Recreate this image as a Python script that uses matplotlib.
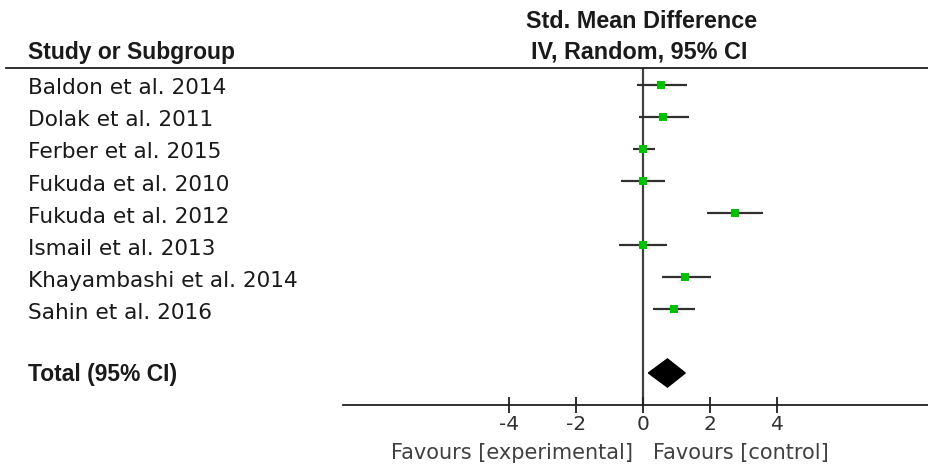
import matplotlib
matplotlib.use("Agg")
import matplotlib.pyplot as plt
from matplotlib.lines import Line2D
from matplotlib.transforms import blended_transform_factory

plt.rcParams['font.family'] = ['DejaVu Sans']

studies = ["Baldon et al. 2014", "Dolak et al. 2011", "Ferber et al. 2015",
           "Fukuda et al. 2010", "Fukuda et al. 2012", "Ismail et al. 2013",
           "Khayambashi et al. 2014", "Sahin et al. 2016"]
smd = [0.54, 0.61, 0.01, 0.00, 2.76, 0.00, 1.26, 0.91]
ci_low = [-0.18, -0.11, -0.29, -0.65, 1.92, -0.71, 0.56, 0.31]
ci_high = [1.31, 1.38, 0.37, 0.67, 3.59, 0.73, 2.04, 1.56]
total = [0.16, 0.73, 1.26]  # low, estimate, high
xticks = [-4, -2, 0, 2, 4]

W, H = 929, 468
fig = plt.figure(figsize=(W / 100, H / 100), dpi=100)
ax = fig.add_axes([343 / W, 1 - 405 / H, 586 / W, 337 / H])
ax.set_xlim(-8.96, 8.54)
ax.set_ylim(10, -0.53)

txt = '#1a1a1a'
bold_font = 'Liberation Sans'
rows = list(range(len(studies)))
total_row = len(studies) + 1

for i in rows:
    ax.plot([ci_low[i], ci_high[i]], [i, i], color='#303030', lw=1.6, solid_capstyle='butt')
ax.plot(smd, rows, 's', color='#00c000', markersize=6, markeredgewidth=0, zorder=3)

ax.fill([total[0], total[1], total[2], total[1]],
        [total_row, total_row - 0.44, total_row, total_row + 0.44], color='black', zorder=3)

ax.axvline(0, color='#404040', lw=1.6, zorder=1)

for s in ['top', 'right', 'left']:
    ax.spines[s].set_visible(False)
ax.spines['bottom'].set_linewidth(1.3)
ax.spines['bottom'].set_color('#202020')
ax.set_yticks([])
ax.set_xticks(xticks)
ax.set_xticklabels([str(t) for t in xticks])
ax.tick_params(axis='x', direction='inout', length=11, width=1.3, color='#202020',
               labelsize=14.5, labelcolor='#303030', pad=2)

# left column text
for i, name in enumerate(studies):
    fig.text(28 / W, 1 - (88 + 32.2 * i) / H, name, fontsize=15.6, color=txt, va='center')
fig.text(28 / W, 1 - 375 / H, "Total (95% CI)", fontsize=16.5, fontweight='bold',
         family=bold_font, color=txt, va='center')

# headers
fig.text(28 / W, 1 - 52 / H, "Study or Subgroup", fontsize=16.5, fontweight='bold',
         family=bold_font, color=txt, va='center')
fig.text(642 / W, 1 - 22 / H, "Std. Mean Difference", fontsize=16.8, fontweight='bold',
         family=bold_font, color=txt, va='center', ha='center')
fig.text(639 / W, 1 - 52 / H, "IV, Random, 95% CI", fontsize=16.8, fontweight='bold',
         family=bold_font, color=txt, va='center', ha='center')
fig.add_artist(Line2D([6 / W, 1], [1 - 68 / H, 1 - 68 / H], color='#202020', lw=1.3))

# favours labels
tr = blended_transform_factory(ax.transData, fig.transFigure)
ax.text(-0.3, 1 - 453 / H, "Favours [experimental]", transform=tr, ha='right', va='center',
        fontsize=15, color='#404040')
ax.text(0.3, 1 - 453 / H, "Favours [control]", transform=tr, ha='left', va='center',
        fontsize=15, color='#404040')

fig.savefig("out.png", dpi=100)
